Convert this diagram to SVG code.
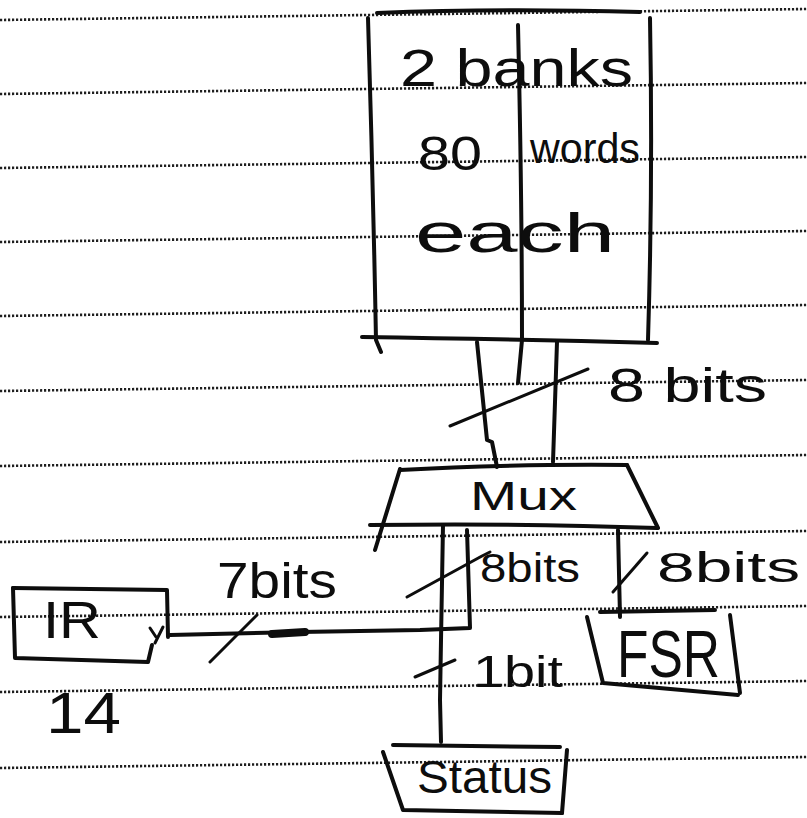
<svg xmlns="http://www.w3.org/2000/svg" width="807" height="818" viewBox="0 0 807 818">
<defs>
<style>
.rule{stroke:#1e1e1e;stroke-width:2.6;stroke-dasharray:2.2 1.8;fill:none}
.ink{stroke:#0d0d0d;stroke-width:4;fill:none;stroke-linecap:round;stroke-linejoin:round}
.thin{stroke:#0d0d0d;stroke-width:3;fill:none;stroke-linecap:round;stroke-linejoin:round}
.t{font-family:"Liberation Sans",Arial,sans-serif;fill:#0d0d0d}
</style>
</defs>
<rect width="807" height="818" fill="#ffffff"/>
<g id="ruled-paper">
<line class="rule" x1="0" y1="20" x2="807" y2="9"/>
<line class="rule" x1="0" y1="94" x2="807" y2="83"/>
<line class="rule" x1="0" y1="168" x2="807" y2="157"/>
<line class="rule" x1="0" y1="242" x2="807" y2="231"/>
<line class="rule" x1="0" y1="316" x2="807" y2="305"/>
<line class="rule" x1="0" y1="391" x2="807" y2="380"/>
<line class="rule" x1="0" y1="466" x2="807" y2="455"/>
<line class="rule" x1="0" y1="542" x2="807" y2="531"/>
<line class="rule" x1="0" y1="617" x2="807" y2="606"/>
<line class="rule" x1="0" y1="692" x2="807" y2="681"/>
<line class="rule" x1="0" y1="768" x2="807" y2="757"/>
</g>
<g id="memory">
<path class="ink" d="M377 13 Q500 8 640 12"/>
<path class="ink" d="M368 18 Q373 180 376 340 L381 352"/>
<path class="ink" d="M518 25 Q522 200 522 340 L518 383"/>
<path class="ink" d="M650 18 Q653 180 648 340"/>
<path class="ink" d="M362 337 Q500 339 657 343"/>
<text class="t" x="400" y="86" font-size="52" textLength="233" lengthAdjust="spacingAndGlyphs">2 banks</text>
<text class="t" x="418" y="170" font-size="48"><tspan textLength="64" lengthAdjust="spacingAndGlyphs">80</tspan><tspan x="530" y="163" font-size="42" textLength="110" lengthAdjust="spacingAndGlyphs">words</tspan></text>
<text class="t" x="415" y="252" font-size="56" textLength="200" lengthAdjust="spacingAndGlyphs">each</text>
</g>
<g id="mux">
<path class="ink" d="M400 470 Q500 464 627 465"/>
<path class="ink" d="M400 469 L375 550"/>
<path class="ink" d="M370 525 Q520 523 657 528"/>
<path class="ink" d="M627 465 L658 528"/>
<text class="t" x="470" y="510" font-size="40" textLength="107" lengthAdjust="spacingAndGlyphs">Mux</text>
</g>
<g id="ir">
<path class="ink" d="M13 588 L167 590 L168 637"/>
<path class="ink" d="M13 588 L15 658 L148 662 L152 645"/>
<path class="thin" d="M150 628 L156 637 M163 627 L155 643"/>
<text class="t" x="43" y="638" font-size="52" textLength="58" lengthAdjust="spacingAndGlyphs">IR</text>
<text class="t" x="46" y="733" font-size="58" textLength="75" lengthAdjust="spacingAndGlyphs">14</text>
</g>
<g id="fsr">
<path class="ink" d="M600 612 L715 610"/>
<path class="ink" d="M587 617 L603 683 L738 695"/>
<path class="ink" d="M730 615 L740 693"/>
<text class="t" x="617" y="677" font-size="66" textLength="103" lengthAdjust="spacingAndGlyphs">FSR</text>
</g>
<g id="status">
<path class="ink" d="M393 745 L560 747"/>
<path class="ink" d="M383 752 L403 810 L562 813"/>
<path class="ink" d="M567 750 L562 813"/>
<text class="t" x="417" y="793" font-size="46" textLength="135" lengthAdjust="spacingAndGlyphs">Status</text>
</g>
<g id="connectors">
<path class="ink" d="M477 342 L487 440 L492 442 L497 467"/>
<path class="ink" d="M557 342 L553 462"/>
<path class="thin" d="M450 426 L588 369"/>
<path class="ink" d="M443 525 L441 640 L440 700 L441 742"/>
<path class="ink" d="M467 530 L470 628 L420 630 L300 632 L170 635"/>
<path stroke="#0d0d0d" stroke-width="8" stroke-linecap="round" d="M272 634 L305 632"/>
<path class="thin" d="M407 597 L482 556 L490 552"/>
<path class="ink" d="M618 530 L620 617"/>
<path class="thin" d="M647 553 L613 592"/>
<path class="thin" d="M210 662 L257 615"/>
<path class="thin" d="M415 677 L455 660"/>
<text class="t" x="608" y="402" font-size="48" textLength="159" lengthAdjust="spacingAndGlyphs">8 bits</text>
<text class="t" x="217" y="598" font-size="50" textLength="120" lengthAdjust="spacingAndGlyphs">7bits</text>
<text class="t" x="480" y="582" font-size="40" textLength="100" lengthAdjust="spacingAndGlyphs">8bits</text>
<text class="t" x="657" y="582" font-size="42" textLength="143" lengthAdjust="spacingAndGlyphs">8bits</text>
<text class="t" x="473" y="687" font-size="44" textLength="90" lengthAdjust="spacingAndGlyphs">1bit</text>
</g>
</svg>
